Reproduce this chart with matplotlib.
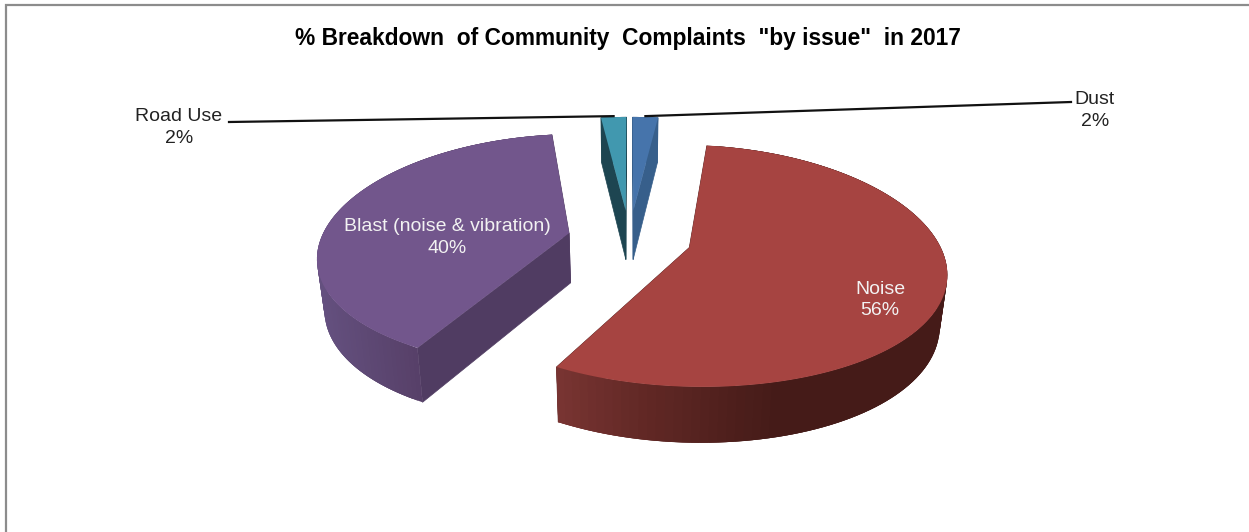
import numpy as np
import matplotlib
matplotlib.use("Agg")
import matplotlib.pyplot as plt
from matplotlib.collections import PolyCollection
from matplotlib.colors import to_rgb
from matplotlib.patches import Polygon

plt.rcParams["font.family"] = ["Liberation Sans", "DejaVu Sans"]

# Clockwise from 12 o'clock
categories = ["Dust", "Noise", "Blast (noise & vibration)", "Road Use"]
shares = [2, 56, 40, 2]

top_colors = ["#4674AB", "#A64441", "#72568C", "#4198AF"]
cut_colors = ["#375F8B", "#5A2422", "#503C62", "#1D4551"]
# wall shading from left to right across the screen
wall_stops = [
    ([0, 1249], ["#375F8B", "#375F8B"]),
    ([555, 650, 780, 945], ["#7A3533", "#612825", "#451B18", "#451B18"]),
    ([320, 420], ["#64507F", "#574068"]),
    ([0, 1249], ["#1D4551", "#1D4551"]),
]

title = '% Breakdown  of Community  Complaints  "by issue"  in 2017'

# projection of the tilted disc onto the page, in pixels
CX, Y0 = 629.5, 238.5
RX, RY = 248, 115.5
PERSP_X, PERSP_Y = 0.18, 0.15
EXPLODE = 0.25
DEPTH = 50


def project(u, v, lower=False):
    x = CX + RX * u / (1 - PERSP_X * v)
    y = Y0 + RY * v / (1 - PERSP_Y * v)
    if lower:
        x = CX + (x - CX) * 0.976
        y = y + DEPTH + 0.04 * (y - Y0)
    return np.column_stack([x, y])


def ramp(x, stops):
    xs, cols = stops
    rgb = np.array([to_rgb(c) for c in cols])
    return np.column_stack([np.interp(x, xs, rgb[:, i]) for i in range(3)])


def draw_slice(ax, start, end, top, cut, stops):
    mid = np.radians((start + end) / 2)
    au = np.array([EXPLODE * np.sin(mid)])
    av = np.array([-EXPLODE * np.cos(mid)])

    theta = np.radians(np.linspace(start, end, 121))
    u = np.sin(theta) + au
    v = -np.cos(theta) + av

    rim_top = project(u, v)
    rim_low = project(u, v, lower=True)
    apex_top = project(au, av)[0]
    apex_low = project(au, av, lower=True)[0]

    # the two cut faces, under the wall
    for i in (0, -1):
        face = [apex_top, rim_top[i], rim_low[i], apex_low]
        ax.add_patch(Polygon(face, closed=True, fc=cut, ec=cut, lw=0.5, zorder=1.9))

    # outer wall, strips overlap so no seams show between them
    n = len(theta)
    quads = [[rim_top[i], rim_top[min(i + 3, n - 1)],
              rim_low[min(i + 3, n - 1)], rim_low[i]] for i in range(n - 1)]
    cols = ramp(rim_top[:-1, 0], stops)
    ax.add_collection(PolyCollection(quads, facecolors=cols, edgecolors="none", zorder=2))

    outline = np.vstack([apex_top, rim_top])
    ax.add_patch(Polygon(outline, closed=True, fc=top, ec="none", zorder=3))
    return rim_top[n // 2]


fig = plt.figure(figsize=(12.49, 5.32), dpi=100)
ax = fig.add_axes([0, 0, 1, 1])
ax.set_xlim(0, 1249)
ax.set_ylim(532, 0)
ax.axis("off")

# chart frame, open on the right and at the bottom
ax.plot([6, 6, 1249], [532, 5, 5], color="#8C8C8C", lw=1.6, solid_joinstyle="miter")

edges = np.cumsum([0] + shares) / sum(shares) * 360
rim_mids = {}
for i in [0, 3, 2, 1]:
    rim_mids[i] = draw_slice(ax, edges[i], edges[i + 1], top_colors[i],
                             cut_colors[i], wall_stops[i])

# leader lines for the two thin slices
dust_end = rim_mids[0]
road_end = rim_mids[3]
ax.plot([dust_end[0], 1071], [dust_end[1] - 1, 102], color="#111111", lw=1.6, zorder=4)
ax.plot([road_end[0], 229], [road_end[1] - 1, 122], color="#111111", lw=1.6, zorder=4)

ax.text(628, 38.5, title, ha="center", va="center", fontsize=16.4,
        fontweight="bold", color="black")

label_kw = dict(ha="center", va="center", fontsize=14, linespacing=1.35)
outer = "#222222"
inner = "#F2F2F2"
ax.text(1095, 110.5, f"{categories[0]}\n{shares[0]}%", color=outer, **label_kw)
ax.text(179, 127.5, f"{categories[3]}\n{shares[3]}%", color=outer, **label_kw)
ax.text(880, 300, f"{categories[1]}\n{shares[1]}%", color=inner, zorder=5, **label_kw)
ax.text(447, 237.5, f"{categories[2]}\n{shares[2]}%", color=inner, zorder=5, **label_kw)

fig.savefig("out.png", dpi=100, facecolor="white")
